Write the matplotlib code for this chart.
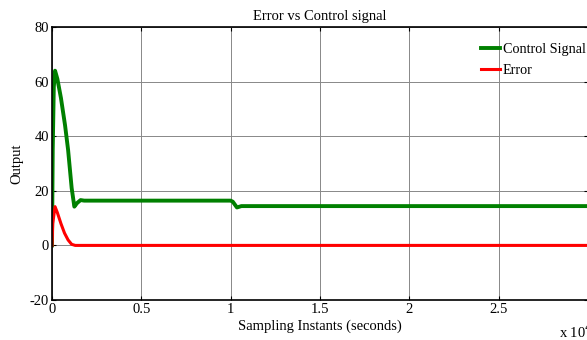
import matplotlib.pyplot as plt
import numpy as np

plt.rcParams["font.family"] = ["Liberation Serif", "DejaVu Serif"]
plt.rcParams["axes.unicode_minus"] = False

# time in units of 1e4 sampling instants
t_control = [0.0, 0.004, 0.01, 0.017, 0.03, 0.05, 0.073, 0.09, 0.11, 0.125,
             0.14, 0.16, 0.18, 1.0, 1.012, 1.035, 1.06, 3.0]
control = [0.0, 35.0, 58.0, 64.0, 61.0, 54.0, 44.0, 35.0, 21.0, 14.2,
           15.5, 16.6, 16.4, 16.4, 16.0, 13.9, 14.4, 14.4]

t_error = [0.0, 0.004, 0.017, 0.03, 0.05, 0.07, 0.09, 0.11, 0.13, 3.0]
error = [0.0, 8.0, 14.2, 12.0, 8.0, 4.5, 2.0, 0.4, 0.0, 0.0]

x_ticks = [0, 0.5, 1, 1.5, 2, 2.5, 3]
x_tick_labels = ["0", "0.5", "1", "1.5", "2", "2.5", ""]
y_ticks = [-20, 0, 20, 40, 60, 80]

fig = plt.figure(figsize=(5.87, 3.4), dpi=100)
ax = fig.add_axes([0.0886, 0.1176, 0.9131, 0.803])

ax.plot(t_control, control, color="#008000", linewidth=2.8, label="Control Signal")
ax.plot(t_error, error, color="#ff0000", linewidth=2.2, label="Error")

ax.set_xlim(0, 3)
ax.set_ylim(-20, 80)
ax.set_xticks(x_ticks)
ax.set_xticklabels(x_tick_labels)
ax.set_yticks(y_ticks)
ax.grid(True, color="#888888", linewidth=0.7)
ax.tick_params(direction="in", top=True, right=True, labelsize=10.5, length=3, pad=2)
for s in ax.spines.values():
    s.set_linewidth(1.2)

ax.set_title("Error vs Control signal", fontsize=10.5, pad=5)
ax.set_xlabel("Sampling Instants (seconds)", fontsize=10.5, labelpad=3)
ax.set_ylabel("Output", fontsize=10.5, labelpad=5)
fig.text(0.952, 0.005, r"x 10$^{4}$", fontsize=10.5)

ax.legend(loc="upper left", bbox_to_anchor=(0.808, 0.895), bbox_transform=fig.transFigure,
          frameon=False, fontsize=10.2, handlelength=1.3, handletextpad=0.2,
          labelspacing=0.6, borderpad=0)

fig.savefig("out.png", dpi=100)
